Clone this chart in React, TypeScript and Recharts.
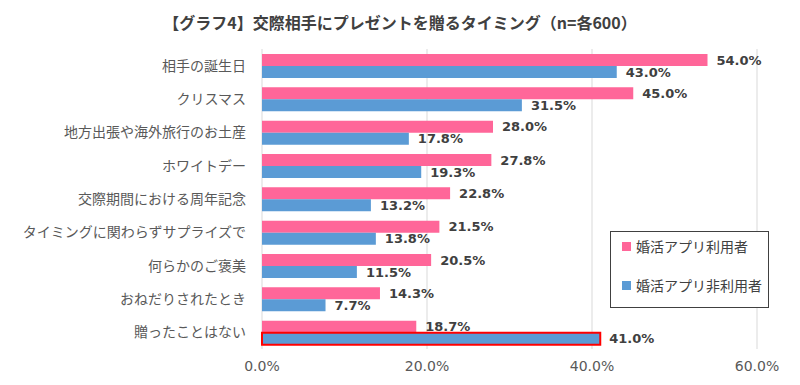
import { BarChart, Bar, XAxis, YAxis, CartesianGrid, Cell, LabelList, Legend } from 'recharts';

const categories = [
  '相手の誕生日',
  'クリスマス',
  '地方出張や海外旅行のお土産',
  'ホワイトデー',
  '交際期間における周年記念',
  'タイミングに関わらずサプライズで',
  '何らかのご褒美',
  'おねだりされたとき',
  '贈ったことはない',
];
const appUsers = [54.0, 45.0, 28.0, 27.8, 22.8, 21.5, 20.5, 14.3, 18.7];
const nonUsers = [43.0, 31.5, 17.8, 19.3, 13.2, 13.8, 11.5, 7.7, 41.0];
const xTicks = [0, 20, 40, 60];

const seriesNames = ['婚活アプリ利用者', '婚活アプリ非利用者'];
const colors = ['#FF6699', '#5B9BD5'];

const data = categories.map((name, i) => ({ name, users: appUsers[i], nonUsers: nonUsers[i] }));

const pct = (v: number) => v.toFixed(1) + '%';

const LegendBox = () => (
  <div
    style={{
      position: 'absolute',
      left: 610,
      top: 231,
      width: 157,
      height: 75,
      border: '1px solid #404040',
      background: '#fff',
      fontFamily: '"Noto Sans CJK JP", sans-serif',
      fontSize: 14,
      color: '#404040',
    }}
  >
    {seriesNames.map((n, i) => (
      <div
        key={n}
        style={{ position: 'absolute', left: 11, top: i === 0 ? 4 : 43, display: 'flex', alignItems: 'center', whiteSpace: 'nowrap' }}
      >
        <span style={{ width: 9, height: 9, background: colors[i], marginRight: 5, display: 'inline-block' }} />
        {n}
      </div>
    ))}
  </div>
);

export default function App() {
  return (
    <div style={{ position: 'absolute', left: 0, top: 0, width: 800, height: 385, background: '#fff' }}>
      <div
        style={{
          position: 'absolute',
          left: 0,
          top: 10,
          width: 800,
          textAlign: 'center',
          fontFamily: '"Noto Sans CJK JP", sans-serif',
          fontWeight: 'bold',
          fontSize: 16,
          color: '#404040',
        }}
      >
        【グラフ4】交際相手にプレゼントを贈るタイミング（n=各600）
      </div>
      <BarChart
        width={800}
        height={385}
        data={data}
        layout="vertical"
        margin={{ top: 49, right: 43, bottom: 0, left: 0 }}
        barGap={0}
        style={{ position: 'absolute', left: 0, top: 0 }}
      >
        <CartesianGrid horizontal={false} stroke="#D9D9D9" />
        <XAxis
          type="number"
          domain={[0, 60]}
          ticks={xTicks}
          tickFormatter={pct}
          axisLine={false}
          tickLine={false}
          tickSize={0}
          tickMargin={12}
          height={36}
          tick={{ fill: '#595959', fontSize: 14, fontFamily: '"DejaVu Sans", sans-serif' }}
        />
        <YAxis
          type="category"
          dataKey="name"
          width={262}
          axisLine={false}
          tickLine={false}
          tickSize={0}
          tickMargin={16}
          interval={0}
          tick={{ fill: '#595959', fontSize: 14, fontFamily: '"Noto Sans CJK JP", sans-serif' }}
        />
        <Legend content={() => null} />
        <Bar dataKey="users" name={seriesNames[0]} fill={colors[0]} barSize={12} isAnimationActive={false}>
          <LabelList
            dataKey="users"
            position="right"
            offset={9}
            formatter={(v: any) => pct(Number(v))}
            fill="#404040"
            fontSize={13}
            fontWeight="bold"
            fontFamily='"DejaVu Sans", sans-serif'
          />
        </Bar>
        <Bar dataKey="nonUsers" name={seriesNames[1]} fill={colors[1]} barSize={12} isAnimationActive={false}>
          {data.map((_, i) => (
            <Cell
              key={i}
              fill={colors[1]}
              stroke={i === data.length - 1 ? '#FF0000' : 'none'}
              strokeWidth={i === data.length - 1 ? 2 : 0}
            />
          ))}
          <LabelList
            dataKey="nonUsers"
            position="right"
            offset={9}
            formatter={(v: any) => pct(Number(v))}
            fill="#404040"
            fontSize={13}
            fontWeight="bold"
            fontFamily='"DejaVu Sans", sans-serif'
          />
        </Bar>
      </BarChart>
      <LegendBox />
    </div>
  );
}
